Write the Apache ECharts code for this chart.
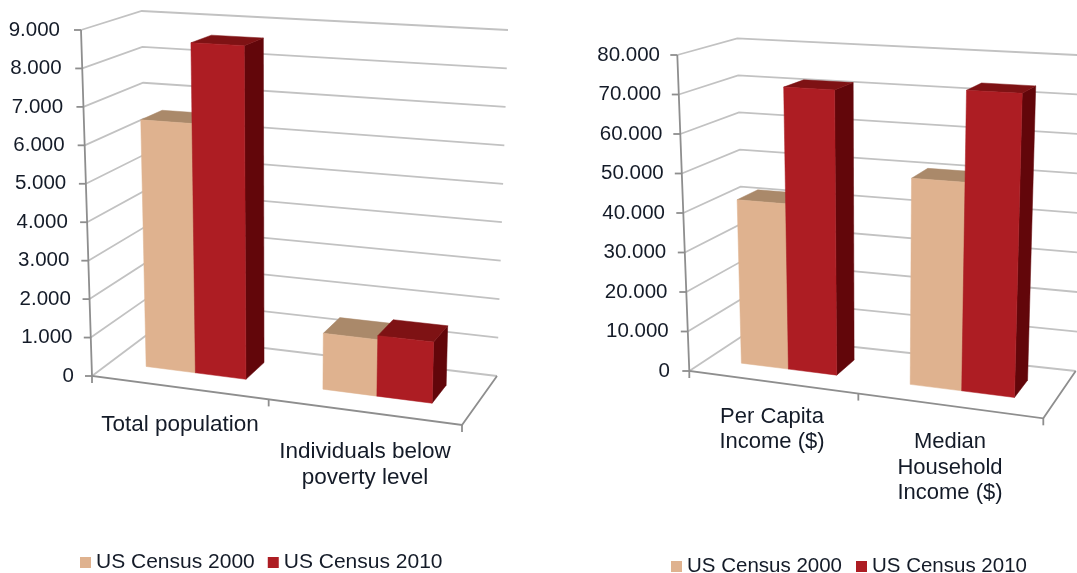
<!DOCTYPE html>
<html><head><meta charset="utf-8">
<style>html,body{margin:0;padding:0;background:#fff}#c{width:1077px;height:573px}</style>
<script src="https://cdn.jsdelivr.net/npm/echarts@6/dist/echarts.min.js"></script>
</head><body><div id="c"></div>
<script>
const seriesNames = ['US Census 2000', 'US Census 2010'];
const leftCategories = ['Total population', '\nIndividuals below\npoverty level'];
const left2000 = [6510, 1420];
const left2010 = [8620, 1520];
const leftTicks = [0, 1000, 2000, 3000, 4000, 5000, 6000, 7000, 8000, 9000];
const leftTickLabels = ['0', '1.000', '2.000', '3.000', '4.000', '5.000', '6.000', '7.000', '8.000', '9.000'];
const rightCategories = ['Per Capita\nIncome ($)', '\nMedian\nHousehold\nIncome ($)'];
const right2000 = [41900, 50800];
const right2010 = [71500, 73200];
const rightTicks = [0, 10000, 20000, 30000, 40000, 50000, 60000, 70000, 80000];
const rightTickLabels = ['0', '10.000', '20.000', '30.000', '40.000', '50.000', '60.000', '70.000', '80.000'];

const TEXT = '#141b28', FONT = '"Liberation Sans", Arial, sans-serif';
const FACE = [['#DFB28F', '#AA896A', '#8a6a50'], ['#AD1D23', '#7E1214', '#62060A']];
const BOX = {
  l: {f00:[92,376], f10:[462,425], b00:[148,334], b10:[497,376], f01:[81,30], f11:[473,50], b01:[141.7,11], b11:[508,30]},
  r: {f00:[689.3,371], f10:[1043.3,418.3], b00:[744,335], b10:[1075.7,371], f01:[677.3,55], f11:[1054,73], b01:[737.3,38.3], b11:[1087,55.5]}
};
const lerp = (a, b, t) => a + (b - a) * t;
const lerpPt = (a, b, t) => [lerp(a[0], b[0], t), lerp(a[1], b[1], t)];
function proj(B, u, v, w) {
  const uu = u - 0.09 * u * (1 - u);
  const fb = lerpPt(B.f00, B.f10, uu), bb = lerpPt(B.b00, B.b10, uu);
  const ft = lerpPt(B.f01, B.f11, uu), bt = lerpPt(B.b01, B.b11, uu);
  return lerpPt(lerpPt(fb, bb, w), lerpPt(ft, bt, w), v);
}
function norm(params, pt) {
  const r = params.coordSys;
  return [(pt[0] - r.x) / r.width, (r.y + r.height - pt[1]) / r.height];
}
const W0 = 0.335, W1 = 0.71, HALF = 0.144;
function barRenderer(B, s) {
  return function (params, api) {
    const n = norm(params, api.coord([api.value(0), api.value(1)]));
    const u0 = n[0] + (s === 0 ? -HALF : 0), u1 = n[0] + (s === 0 ? 0 : HALF), v = n[1];
    const poly = (pts, fill) => ({type:'polygon', shape:{points:pts}, style:{fill:fill, stroke:fill, lineWidth:0.5}});
    return {type:'group', children:[
      poly([proj(B,u1,0,W0), proj(B,u1,0,W1), proj(B,u1,v,W1), proj(B,u1,v,W0)], FACE[s][2]),
      poly([proj(B,u0,v,W0), proj(B,u1,v,W0), proj(B,u1,v,W1), proj(B,u0,v,W1)], FACE[s][1]),
      poly([proj(B,u0,0,W0), proj(B,u1,0,W0), proj(B,u1,v,W0), proj(B,u0,v,W0)], FACE[s][0])
    ]};
  };
}
function gridRenderer(B) {
  return function (params, api) {
    const v = norm(params, api.coord([0, api.value(0)]))[1];
    const children = [{type:'polyline', shape:{points:[proj(B,0,v,0), proj(B,0,v,1), proj(B,1,v,1)]},
      style:{fill:null, stroke:'#C2C2C2', lineWidth:1.8}}];
    const p = proj(B,0,v,0);
    children.push({type:'line', shape:{x1:p[0]-7, y1:p[1], x2:p[0], y2:p[1]}, style:{stroke:'#8E8E8E', lineWidth:1.8}});
    return {type:'group', children};
  };
}
function frameRenderer(B) {
  return function () {
    const line = pts => ({type:'polyline', shape:{points:pts}, style:{fill:null, stroke:'#8E8E8E', lineWidth:1.8}});
    const ticks = [0, 0.5, 1].map(u => { const p = proj(B,u,0,0); return line([p, [p[0], p[1]+7]]); });
    return {type:'group', children:[line([proj(B,0,1,0), proj(B,0,0,0), proj(B,1,0,0), proj(B,1,0,1)])].concat(ticks)};
  };
}
function yLabel(labels, ticks, pBottom, pTop, size) {
  const rich = {};
  labels.forEach((t, i) => {
    rich['t' + i] = {fontSize:size, fontFamily:FONT, color:TEXT, padding:[0, lerp(pBottom, pTop, i/(labels.length-1)), 0, 0]};
  });
  return {margin:0, rich, formatter: val => { const i = ticks.indexOf(val); return '{t' + i + '|' + labels[i] + '}'; }};
}
function build(i, key, cats, ticks, labels, d0, d1, pB, pT, margin, lh, catSize) {
  const B = BOX[key], max = ticks[ticks.length-1];
  return {
    xAxis:{gridIndex:i, type:'category', data:cats, axisLine:{show:false}, axisTick:{show:false}, splitLine:{show:false},
      axisLabel:{interval:0, margin, fontSize:catSize, lineHeight:lh, fontFamily:FONT, color:TEXT, align:'center', verticalAlign:'top'}},
    yAxis:{gridIndex:i, type:'value', min:0, max, interval:ticks[1], axisLine:{show:false}, axisTick:{show:false}, splitLine:{show:false},
      axisLabel:yLabel(labels, ticks, pB, pT, 20.5)},
    series:[
      {type:'custom', xAxisIndex:i, yAxisIndex:i, name:'grid'+i, silent:true, z:1, data:ticks.map(t=>[t]), encode:{y:0}, renderItem:gridRenderer(B)},
      {type:'custom', xAxisIndex:i, yAxisIndex:i, name:'frame'+i, silent:true, z:2, data:[[0]], renderItem:frameRenderer(B)},
      {type:'custom', xAxisIndex:i, yAxisIndex:i, name:seriesNames[0], z:3, itemStyle:{color:FACE[0][0]}, encode:{x:0,y:1},
        data:d0.map((v,k)=>[k,v]), renderItem:barRenderer(B,0)},
      {type:'custom', xAxisIndex:i, yAxisIndex:i, name:seriesNames[1], z:4, itemStyle:{color:FACE[1][0]}, encode:{x:0,y:1},
        data:d1.map((v,k)=>[k,v]), renderItem:barRenderer(B,1)}
    ]
  };
}
const L = build(0,'l',leftCategories,leftTicks,leftTickLabels,left2000,left2010,13.5,27.5,36,26.5,22.5);
const R = build(1,'r',rightCategories,rightTicks,rightTickLabels,right2000,right2010,13,23,33,25.5,22);
const legendBase = {orient:'horizontal', icon:'rect', itemWidth:11, itemHeight:11, data:seriesNames, padding:0, selectedMode:false};
const chart = echarts.init(document.getElementById('c'), null, {renderer:'canvas'});
chart.setOption({
  animation:false, backgroundColor:'#fff', tooltip:{show:false},
  grid:[{left:87.5, width:370, top:30, height:346}, {left:683, width:356, top:55, height:316}],
  xAxis:[L.xAxis, R.xAxis], yAxis:[L.yAxis, R.yAxis],
  legend:[Object.assign({}, legendBase, {left:80, top:552, itemGap:13, textStyle:{fontSize:21, fontFamily:FONT, color:TEXT}}),
          Object.assign({}, legendBase, {left:671, top:556, itemGap:14, textStyle:{fontSize:20.5, fontFamily:FONT, color:TEXT}})],
  series:L.series.concat(R.series)
});
</script></body></html>
